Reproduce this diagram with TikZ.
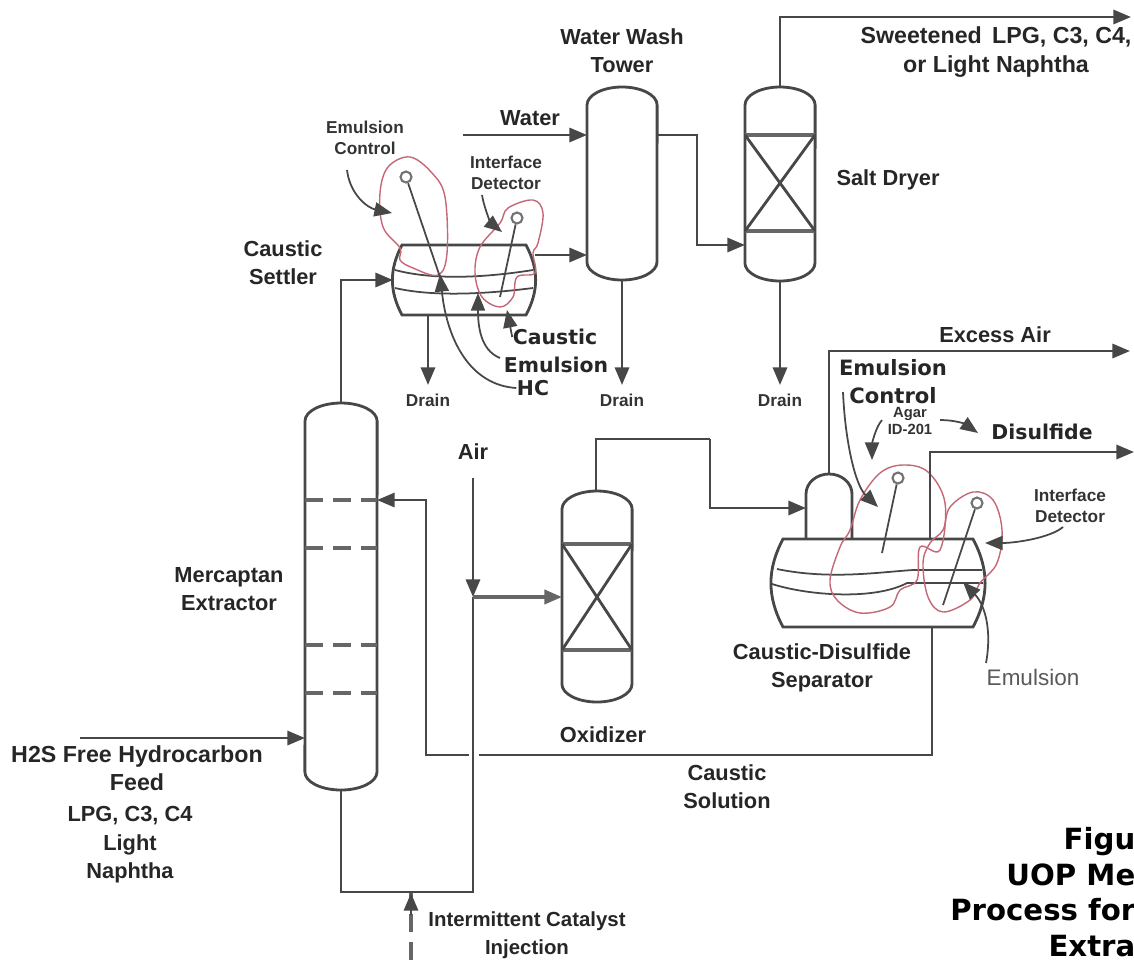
\documentclass[tikz,border=0pt]{standalone}
\usepackage{fontspec}
\setmainfont{Liberation Sans}
\newfontfamily\widefont{DejaVu Sans}
\usetikzlibrary{arrows.meta}
\definecolor{cloudpink}{RGB}{196,104,118}
\tikzset{
	>={Triangle[length=5pt,width=4pt]},
	pipe/.style = {draw=black!72, line width=0.8pt},
	fine/.style = {draw=black!72, line width=0.5pt},
	trayline/.style = {draw=black!60, line width=1pt},
	cloud/.style = {draw=cloudpink, line width=0.4pt, smooth cycle, tension=0.6},
	shell/.style = {rectangle, inner sep=0pt, outer sep=0pt},
	probe/.style = {circle, draw=black!55, line width=0.6pt, fill=white, inner sep=0pt, minimum size=0.11cm},
	lbl/.style = {inner sep=0pt, align=center, text=black!85, font=\bfseries\fontsize{6.2}{8}\selectfont},
	lblbig/.style = {lbl, font=\bfseries\fontsize{6.6}{8}\selectfont},
	tag/.style = {inner sep=0pt, align=center, text=black!80, font=\bfseries\fontsize{4.9}{6}\selectfont},
	wide/.style = {inner sep=0pt, align=center, text=black!85, font=\widefont\bfseries\fontsize{5.8}{7}\selectfont},
}
\newcommand{\vessel}[5]{
	\node[shell, minimum width=#5*0.01cm, minimum height=(#4-#3)*0.01cm] (#1) at (#2,{(#3+#4)/2}) {};
	\draw[pipe] ([yshift=-0.18cm]#1.north west) arc[start angle=180, end angle=0, x radius=#5*0.005cm, y radius=0.18cm]
		-- ([yshift=0.18cm]#1.south east) arc[start angle=0, end angle=-180, x radius=#5*0.005cm, y radius=0.18cm] -- cycle;
}
\newcommand{\drum}[6]{
	\node[shell, minimum width=#4*0.01cm, minimum height=#5*0.01cm] (#1) at (#2,#3) {};
	\draw[pipe] ([xshift=#6*0.01cm]#1.north west) -- ([xshift=-#6*0.01cm]#1.north east) to[bend left=28] ([xshift=-#6*0.01cm]#1.south east)
		-- ([xshift=#6*0.01cm]#1.south west) to[bend left=28] cycle;
}
\newcommand{\bed}[3]{
	\draw[trayline] (#1.west |- 0,#2) -- (#1.east |- 0,#2);
	\draw[trayline] (#1.west |- 0,#3) -- (#1.east |- 0,#3);
	\draw[pipe] (#1.west |- 0,#2) -- (#1.east |- 0,#3);
	\draw[pipe] (#1.east |- 0,#2) -- (#1.west |- 0,#3);
}
\begin{document}
\begin{tikzpicture}[x=0.01cm, y=-0.01cm]
	\useasboundingbox (0,0) rectangle (1134,960);

	\vessel{extractor}{341}{403}{790}{72}
	\vessel{oxidizer}{597}{491}{702}{70}
	\vessel{washtower}{622}{87}{280}{70}
	\vessel{dryer}{780}{87}{281}{70}
	\drum{settler}{464}{280}{142}{70}{9}
	\drum{separator}{878}{583}{212}{88}{11}
	\node[shell, minimum width=0.46cm, minimum height=0.65cm] (dome) at (829,506.5) {};
	\draw[pipe] (dome.south west) -- ([yshift=-0.2cm]dome.north west) arc[start angle=180, end angle=0, x radius=0.23cm, y radius=0.2cm] -- (dome.south east);

	\foreach \y in {500,548,645,693}
		\draw[trayline, dash pattern=on 0.18cm off 0.1cm] (extractor.west |- 0,\y) -- (extractor.east |- 0,\y);
	\bed{oxidizer}{544}{650}
	\bed{dryer}{135}{231}

	% interfaces inside the two drums
	\draw[fine] (395,270) .. controls (425,278) and (470,280) .. (533,270);
	\draw[fine] (395,288) .. controls (425,295) and (470,296) .. (533,288);
	\draw[fine] (777,569) .. controls (830,580) and (880,572) .. (913,570) -- (982,570);
	\draw[fine] (772,584) .. controls (810,596) and (875,600) .. (907,583) -- (983,583);

	% hand drawn marks
	\draw[cloud] plot coordinates {(400,248) (383,227) (380,193) (388,167) (410,157) (432,173) (445,197) (447,253) (438,275) (413,268) (400,260)};
	\draw[cloud] plot coordinates {(500,223) (508,208) (533,200) (543,213) (538,243) (533,253) (535,273) (517,277) (513,297) (500,307) (482,297) (475,273) (480,247)};
	\draw[cloud] plot coordinates {(850,530) (860,500) (880,473) (903,465) (928,472) (945,503) (940,550) (920,547) (917,580) (900,590) (890,607) (860,613) (837,600) (830,580) (840,547)};
	\draw[cloud] plot coordinates {(943,530) (950,507) (973,492) (993,500) (1002,530) (997,563) (980,583) (970,600) (943,612) (928,597) (923,563) (930,543)};

	\node[probe] (probeA) at (406,177) {};
	\node[probe] (probeB) at (517,218) {};
	\node[probe] (probeC) at (898,478) {};
	\node[probe] (probeD) at (977,503) {};
	\coordinate (stemA) at (440,277);
	\coordinate (stemB) at (500,297);
	\coordinate (stemC) at (882,553);
	\coordinate (stemD) at (943,605);
	\draw[fine] (probeA) -- (stemA);
	\draw[fine] (probeB) -- (stemB);
	\draw[fine] (probeC) -- (stemC);
	\draw[fine] (probeD) -- (stemD);

	% labels
	\node[lbl] (lwash) at (622,51) {Water Wash\\Tower};
	\node[lblbig] (lsweet) at (996,52) {Sweetened\, LPG, C3, C4,\\or Light Naphtha};
	\node[lbl] (ldryer) at (888,180) {Salt Dryer};
	\node[lbl] (lwater) at (530,118) {Water};
	\node[lbl] (lsettler) at (283,263) {Caustic\\Settler};
	\node[lbl] (lextractor) at (229,589) {Mercaptan\\Extractor};
	\node[lbl] (lair) at (473,452) {Air};
	\node[lbl] (loxidizer) at (603,735) {Oxidizer};
	\node[lbl] (lseparator) at (822,668) {Caustic-Disulfide\\Separator};
	\node[lbl] (lexcess) at (995,335) {Excess Air};
	\node[lbl] (lsolution) at (727,787) {Caustic\\Solution};
	\node[lblbig, anchor=north] (lfeed) at (137,745) {H2S Free Hydrocarbon\\Feed};
	\node[lbl, anchor=north] (lnaphtha) at (130,806) {LPG, C3, C4\\Light\\Naphtha};
	\node[lbl, font=\bfseries\fontsize{5.8}{8}\selectfont] (linject) at (527,935) {Intermittent Catalyst\\Injection};
	\node[inner sep=0pt, text=black!65, font=\fontsize{6.4}{8}\selectfont] (lemul) at (1033,677) {Emulsion};
	\node[tag] (lctrlA) at (365,138) {Emulsion\\Control};
	\node[tag] (ldetA) at (506,173) {Interface\\Detector};
	\node[tag] (ldetB) at (1070,506) {Interface\\Detector};
	\node[tag] (ldrainA) at (428,400) {Drain};
	\node[tag] (ldrainB) at (622,400) {Drain};
	\node[tag] (ldrainC) at (780,400) {Drain};
	\node[tag, font=\bfseries\fontsize{4.2}{5}\selectfont] (lagar) at (910,421) {Agar\\ID-201};
	\node[wide] (lcaustic) at (555,337) {Caustic};
	\node[wide] (lemulA) at (556,365) {Emulsion};
	\node[wide] (lhc) at (533,388) {HC};
	\node[wide, font=\widefont\bfseries\fontsize{6}{8}\selectfont] (lctrlB) at (893,382) {Emulsion\\Control};
	\node[wide] (ldisulfide) at (1042,432) {Disulfide};
	\node[anchor=east, inner sep=0pt, align=right, font=\widefont\bfseries\fontsize{8.3}{10.1}\selectfont] (lfigure) at (1136,892) {Figu\\UOP Me\\Process for\\Extra};

	% process lines
	\coordinate (feedin) at (80,738);
	\coordinate (waterin) at (463,135);
	\coordinate (airin) at (473,478);
	\coordinate (airtee) at (473,597);
	\coordinate (airend) at (473,892);
	\coordinate (catalystin) at (411,960);
	\coordinate (catalystend) at (411,893);
	\coordinate (sweetout) at (1131,17);
	\coordinate (excessout) at (1130,351);
	\coordinate (disulfout) at (1134,452);
	\coordinate (gapright) at (479,755);
	\coordinate (gapleft) at (469,755);
	\draw[pipe, ->] (feedin) -- (extractor.west |- feedin);
	\draw[pipe, ->] (waterin) -- (washtower.west |- waterin);
	\draw[pipe, ->] (extractor.north) |- (settler.west);
	\draw[pipe, ->] (settler.east |- 0,255) -- (washtower.west |- 0,255);
	\draw[pipe, ->] (washtower.east |- 0,135) -| (697,245) -- (dryer.west |- 0,245);
	\draw[pipe, ->] (dryer.north) |- (sweetout);
	\draw[pipe, ->] (settler.south -| 428,0) -- (428,385);
	\draw[pipe, ->] (washtower.south) -- (622,385);
	\draw[pipe, ->] (dryer.south) -- (780,385);
	\draw[pipe, ->] (airin) -- (airtee);
	\draw[pipe] (airtee) -- (airend) -| (extractor.south);
	\draw[trayline, ->] (airtee) -- (oxidizer.west |- airtee);
	\draw[trayline, dash pattern=on 0.18cm off 0.1cm] (catalystin) -- (catalystend);
	\draw[pipe, ->] (411,915) -- (catalystend);
	\draw[pipe] (oxidizer.north -| 596,0) |- (710,439);
	\draw[pipe, ->] (710,439) |- (dome.west |- 0,508);
	\draw[pipe, ->] (dome.north) |- (excessout);
	\draw[pipe, ->] (separator.north -| 930,0) |- (disulfout);
	\draw[pipe] (separator.south -| 932,0) |- (gapright);
	\draw[pipe, ->] (gapleft) -| (426,500) -- (extractor.east |- 0,500);

	% leaders
	\coordinate (tipA) at (392,213);
	\coordinate (tipB) at (502,232);
	\coordinate (tipC) at (507,310);
	\coordinate (tipD) at (478,293);
	\coordinate (tipE) at (440,274);
	\coordinate (tipF) at (878,507);
	\coordinate (tipG) at (872,460);
	\coordinate (tipH) at (978,433);
	\coordinate (tipI) at (985,543);
	\coordinate (tipJ) at (963,582);
	\draw[fine, ->] (347,170) .. controls (350,195) and (368,208) .. (tipA);
	\draw[fine, ->] (482,195) .. controls (485,212) and (492,224) .. (tipB);
	\draw[fine, ->] (lcaustic.west) -- (tipC);
	\draw[fine, ->] (500,358) .. controls (480,350) and (478,325) .. (tipD);
	\draw[fine, ->] (lhc.west) .. controls (470,385) and (447,340) .. (tipE);
	\draw[fine, ->] (843,392) .. controls (845,440) and (855,485) .. (tipF);
	\draw[fine, ->] (882,420) .. controls (875,428) and (872,445) .. (tipG);
	\draw[fine, ->] (940,420) .. controls (955,420) and (965,424) .. (tipH);
	\draw[fine, ->] (1063,527) .. controls (1050,538) and (1015,543) .. (tipI);
	\draw[fine, ->] (lemul.north west |- 0,663) .. controls (992,630) and (985,605) .. (tipJ);
\end{tikzpicture}
\end{document}
